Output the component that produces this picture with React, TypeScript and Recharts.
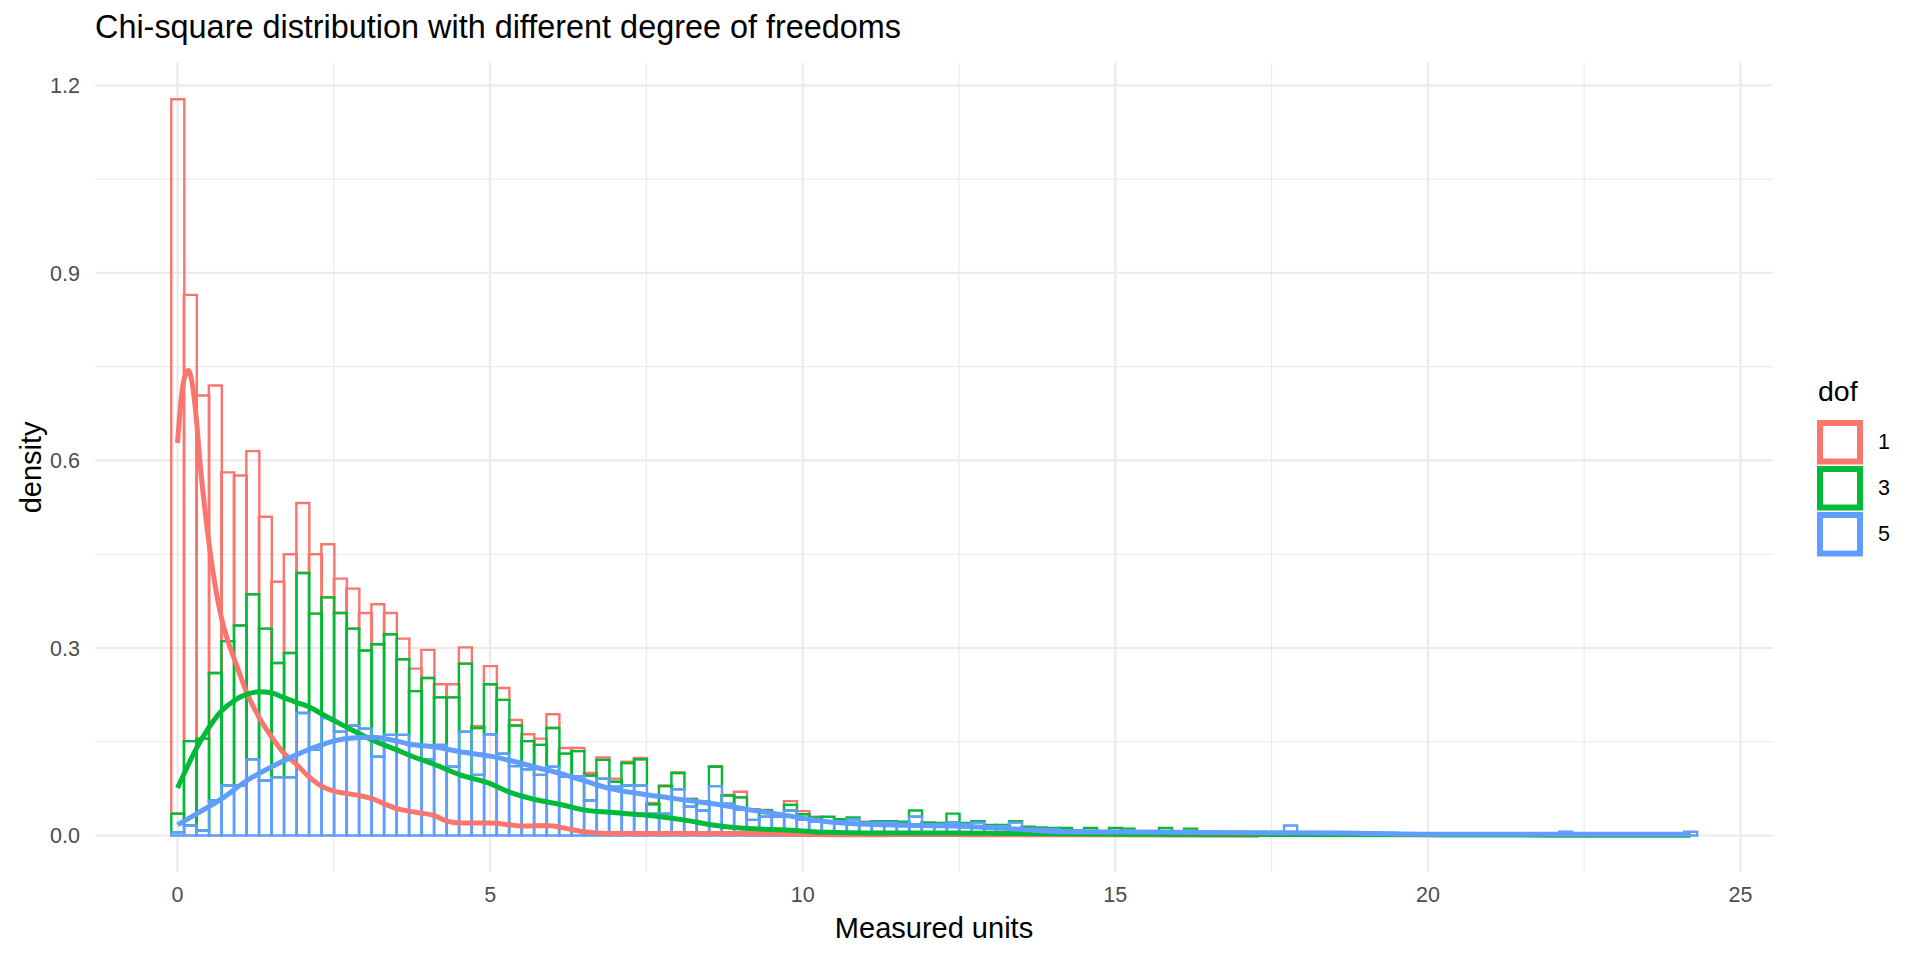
import React from "react"
import { ComposedChart, Bar, Line, XAxis, YAxis, CartesianGrid, Label } from "recharts"

const FONT = '"Liberation Sans", Arial, Helvetica, sans-serif'

// histogram: bins of width 0.2 centred on 0, 0.2, ... 24.2 (stacked densities)
const BIN_WIDTH = 0.2
const BIN_COUNT = 122
const binCenters = Array.from({ length: BIN_COUNT }, (_, i) => Math.round(i * BIN_WIDTH * 10) / 10)

const dof1Hist = [
  1.143, 0.714, 0.549, 0.46, 0.27, 0.24, 0.229, 0.179, 0.13, 0.158,
  0.112, 0.095, 0.085, 0.055, 0.064, 0.06, 0.064, 0.034, 0.033, 0.036,
  0.045, 0.021, 0.021, 0.026, 0.003, 0.029, 0.019, 0.009, 0.011, 0.01,
  0.022, 0.009, 0.005, 0.004, 0.004, 0.005, 0.002, 0.002, 0.002, 0.001,
  0.001, 0.001, 0.001, 0.001, 0.001, 0.009, 0.001, 0.001, 0.001, 0.006,
  0.005, 0.001, 0, 0, 0, 0.001, 0, 0, 0, 0,
  0, 0, 0, 0, 0, 0, 0, 0, 0, 0,
  0, 0, 0, 0, 0, 0, 0, 0, 0, 0,
  0, 0, 0, 0, 0, 0, 0, 0, 0, 0,
  0, 0, 0, 0, 0, 0, 0, 0, 0, 0,
  0, 0, 0, 0, 0, 0, 0, 0, 0, 0,
  0, 0, 0, 0, 0, 0, 0, 0, 0, 0,
  0, 0,
]

const dof3Hist = [
  0.03, 0.135, 0.147, 0.204, 0.231, 0.256, 0.264, 0.243, 0.183, 0.199,
  0.224, 0.218, 0.193, 0.19, 0.155, 0.125, 0.18, 0.161, 0.121, 0.086,
  0.13, 0.076, 0.111, 0.109, 0.075, 0.08, 0.086, 0.065, 0.045, 0.048,
  0.062, 0.037, 0.04, 0.04, 0.03, 0.008, 0.036, 0.042, 0.015, 0.044,
  0.026, 0.012, 0.014, 0.031, 0.013, 0.02, 0.016, 0.01, 0.003, 0.009,
  0.009, 0.007, 0.008, 0.004, 0.003, 0.003, 0.002, 0.002, 0.003, 0.01,
  0.003, 0.002, 0.014, 0.002, 0.002, 0.002, 0.002, 0.002, 0.003, 0.002,
  0.002, 0.004, 0.001, 0.005, 0.001, 0.005, 0.005, 0.001, 0.001, 0.006,
  0.001, 0.006, 0.001, 0.001, 0, 0.001, 0, 0.001, 0, 0,
  0.001, 0, 0, 0.001, 0, 0, 0, 0.001, 0, 0,
  0, 0, 0, 0, 0.001, 0, 0, 0, 0, 0,
  0, 0, 0, 0, 0, 0, 0, 0, 0, 0,
  0, 0,
]

const dof5Hist = [
  0.005, 0.016, 0.008, 0.056, 0.08, 0.08, 0.122, 0.088, 0.093, 0.093,
  0.196, 0.137, 0.188, 0.166, 0.176, 0.171, 0.126, 0.161, 0.161, 0.145,
  0.122, 0.145, 0.11, 0.166, 0.097, 0.162, 0.131, 0.111, 0.106, 0.097,
  0.11, 0.094, 0.095, 0.056, 0.091, 0.078, 0.08, 0.08, 0.035, 0.035,
  0.074, 0.046, 0.04, 0.079, 0.051, 0.041, 0.025, 0.03, 0.03, 0.04,
  0.025, 0.022, 0.022, 0.022, 0.026, 0.018, 0.021, 0.021, 0.019, 0.03,
  0.018, 0.018, 0.021, 0.018, 0.021, 0.015, 0.015, 0.021, 0.011, 0.011,
  0.01, 0.008, 0.007, 0.007, 0.006, 0.007, 0.006, 0.006, 0.005, 0.006,
  0.005, 0.005, 0.005, 0.004, 0.005, 0.004, 0.005, 0.004, 0.004, 0.016,
  0.004, 0.003, 0.004, 0.003, 0.003, 0.003, 0.002, 0.003, 0.003, 0.002,
  0.003, 0.002, 0.001, 0.002, 0.001, 0.003, 0.003, 0.002, 0.003, 0.003,
  0.003, 0.006, 0.003, 0.003, 0.003, 0.002, 0.003, 0.003, 0.002, 0.003,
  0.002, 0.006,
]

// kernel density curves, [x, density]
const dof1Curve = [
  [0, 0.628], [0.05, 0.69], [0.1, 0.728], [0.17, 0.744], [0.24, 0.72], [0.3, 0.668],
  [0.36, 0.596], [0.44, 0.52], [0.52, 0.455], [0.61, 0.395], [0.71, 0.345], [0.81, 0.31],
  [0.91, 0.282], [1.11, 0.228], [1.31, 0.188], [1.51, 0.157], [1.69, 0.133], [1.9, 0.114],
  [2.1, 0.094], [2.3, 0.079], [2.5, 0.071], [2.71, 0.067], [2.9, 0.064], [3.11, 0.059],
  [3.3, 0.051], [3.51, 0.043], [3.7, 0.039], [3.88, 0.036], [4.1, 0.032], [4.31, 0.023],
  [4.52, 0.02], [5, 0.02], [5.32, 0.017], [5.5, 0.015], [5.9, 0.016], [6.28, 0.01],
  [6.5, 0.006], [7, 0.003], [8, 0.003], [9, 0.003], [10, 0.002], [11, 0.001],
  [12, 0.002], [13, 0.001], [15, 0.001], [17.3, 0.0005],
]

const dof3Curve = [
  [0, 0.076], [0.11, 0.1], [0.31, 0.141], [0.51, 0.174], [0.71, 0.2], [0.91, 0.216],
  [1.11, 0.226], [1.31, 0.23], [1.51, 0.228], [1.69, 0.221], [1.9, 0.213], [2.1, 0.206],
  [2.3, 0.195], [2.5, 0.184], [2.71, 0.173], [2.9, 0.163], [3.11, 0.153], [3.3, 0.145],
  [3.51, 0.137], [3.72, 0.128], [4.1, 0.114], [4.52, 0.097], [5, 0.083], [5.32, 0.069],
  [5.7, 0.058], [6.2, 0.048], [6.49, 0.041], [6.92, 0.037], [7.45, 0.033], [7.88, 0.028],
  [8.09, 0.025], [8.62, 0.016], [9.15, 0.011], [9.68, 0.009], [10.4, 0.005], [11, 0.004],
  [12.4, 0.004], [13.5, 0.003], [15, 0.002], [17, 0.0015], [20, 0.001], [22, 0.0005],
  [24.2, 0.0003],
]

const dof5Curve = [
  [0, 0.017], [0.31, 0.035], [0.71, 0.059], [1.11, 0.088], [1.51, 0.11], [1.9, 0.129],
  [2.3, 0.145], [2.71, 0.155], [3.11, 0.157], [3.51, 0.151], [3.72, 0.146], [4.1, 0.142],
  [4.52, 0.134], [5, 0.127], [5.32, 0.12], [5.7, 0.11], [6.2, 0.097], [6.49, 0.088],
  [6.92, 0.075], [7.45, 0.066], [7.88, 0.06], [8.09, 0.057], [8.62, 0.05], [9.15, 0.041],
  [9.68, 0.033], [10.4, 0.022], [11.34, 0.017], [12.4, 0.015], [13.47, 0.01], [14.1, 0.006],
  [16, 0.005], [18.6, 0.004], [20, 0.002], [22, 0.002], [24.2, 0.002],
]

const xTicks = [0, 5, 10, 15, 20, 25]
const xMinor = [2.5, 7.5, 12.5, 17.5, 22.5]
const yTicks = [0, 0.3, 0.6, 0.9, 1.2]
const yMinor = [0.15, 0.45, 0.75, 1.05]

const series = [
  { key: "d1", label: "1", color: "#F8766D", hist: dof1Hist, curve: dof1Curve },
  { key: "d3", label: "3", color: "#00BA38", hist: dof3Hist, curve: dof3Curve },
  { key: "d5", label: "5", color: "#619CFF", hist: dof5Hist, curve: dof5Curve },
]

const rows = binCenters.map((x, i) => ({
  x,
  d1: dof1Hist[i],
  d3: dof3Hist[i],
  d5: dof5Hist[i],
}))

const toPoints = (c: number[][]) => c.map(([x, y]) => ({ x, y }))

// ggplot-style expanded limits (5% of the data range on each side)
const X_DOMAIN = [-1.32, 25.52]
const Y_DOMAIN = [-0.0589, 1.2369]
const BAR_PAD = 76.3

function YTitle(props: any) {
  const vb = props.viewBox
  const cx = vb.x - 4
  const cy = vb.y + vb.height / 2
  return (
    <text x={cx} y={cy} transform={`rotate(-90 ${cx} ${cy})`} textAnchor="middle"
      dominantBaseline="central" fontSize={29} fontFamily={FONT} fill="#000">
      density
    </text>
  )
}

function XTitle(props: any) {
  const vb = props.viewBox
  return (
    <text x={vb.x + vb.width / 2} y={938} textAnchor="middle" fontSize={29} fontFamily={FONT} fill="#000">
      Measured units
    </text>
  )
}

function DofLegend() {
  return (
    <svg style={{ position: "absolute", left: 1800, top: 370 }} width={120} height={200}>
      <text x={18} y={31} fontSize={28.5} fontFamily={FONT} fill="#000">dof</text>
      {series.map((s, i) => (
        <g key={s.key}>
          <rect x={20} y={53 + i * 46} width={40} height={38.5} fill="#fff" stroke={s.color} strokeWidth={6} />
          <text x={78} y={72 + i * 46} dominantBaseline="central" fontSize={21.5} fontFamily={FONT} fill="#000">
            {s.label}
          </text>
        </g>
      ))}
    </svg>
  )
}

export default function App() {
  const tickStyle = { fill: "#4d4d4d", fontSize: 21.5, fontFamily: FONT }
  return (
    <div style={{ position: "absolute", left: 0, top: 0, width: 1920, height: 960, background: "#fff", fontFamily: FONT }}>
      <div style={{ position: "absolute", left: 95, top: 11, fontSize: 32.4, lineHeight: "32px", color: "#000", whiteSpace: "nowrap" }}>
        Chi-square distribution with different degree of freedoms
      </div>
      <ComposedChart
        width={1920}
        height={960}
        data={rows}
        margin={{ top: 62.4, right: 147, bottom: 57.7, left: 35 }}
        barCategoryGap={0}
        barGap={0}
        reverseStackOrder
      >
        <CartesianGrid xAxisId="num" verticalValues={xMinor} horizontalValues={yMinor} stroke="#ebebeb" strokeWidth={1.2} />
        <CartesianGrid xAxisId="num" verticalValues={xTicks} horizontalValues={yTicks} stroke="#ebebeb" strokeWidth={2.2} />
        <XAxis
          xAxisId="num"
          dataKey="x"
          type="number"
          domain={X_DOMAIN}
          ticks={xTicks}
          allowDataOverflow
          axisLine={false}
          tickLine={false}
          tickMargin={8}
          height={30}
          tick={tickStyle}
        >
          <Label content={XTitle} />
        </XAxis>
        <XAxis xAxisId="cat" dataKey="x" type="category" orientation="top" hide padding={{ left: BAR_PAD, right: BAR_PAD }} />
        <YAxis
          type="number"
          domain={Y_DOMAIN}
          ticks={yTicks}
          allowDataOverflow
          axisLine={false}
          tickLine={false}
          width={60}
          tickMargin={9}
          tickFormatter={(v: number) => v.toFixed(1)}
          tick={tickStyle}
        >
          <Label content={YTitle} />
        </YAxis>
        {series.map((s) => (
          <Bar
            key={s.key}
            xAxisId="cat"
            dataKey={s.key}
            stackId="hist"
            fill="none"
            stroke={s.color}
            strokeWidth={2.4}
            isAnimationActive={false}
          />
        ))}
        {series.map((s) => (
          <Line
            key={"c" + s.key}
            xAxisId="num"
            data={toPoints(s.curve)}
            dataKey="y"
            type="monotone"
            stroke={s.color}
            strokeWidth={5}
            dot={false}
            activeDot={false}
            isAnimationActive={false}
          />
        ))}
      </ComposedChart>
      <DofLegend />
    </div>
  )
}
